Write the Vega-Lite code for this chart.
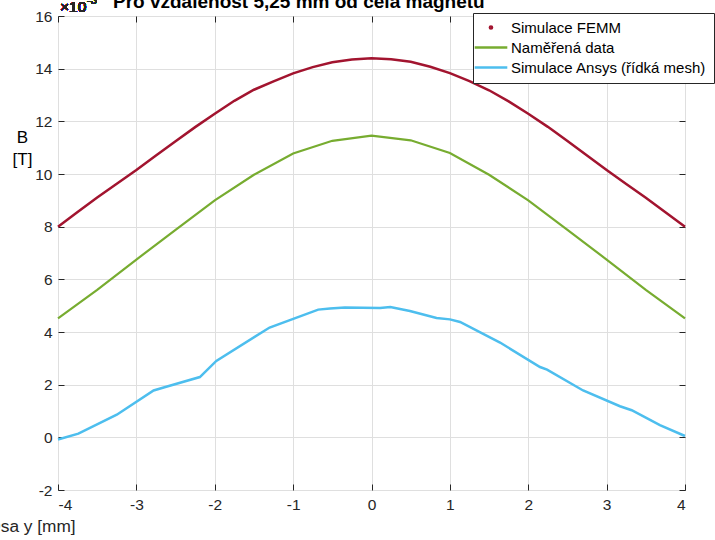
{
  "$schema": "https://vega.github.io/schema/vega-lite/v6.json",
  "autosize": "none",
  "width": 627,
  "height": 474,
  "padding": {"left": 58, "top": 16, "right": 30, "bottom": 50},
  "background": "white",
  "config": {
    "font": "Liberation Sans",
    "view": {"stroke": "#262626", "strokeWidth": 1}
  },
  "title": {
    "text": "Pro vzdálenost 5,25 mm od čela magnetu",
    "anchor": "start",
    "frame": "group",
    "dx": 55,
    "offset": -31.5,
    "baseline": "alphabetic",
    "fontSize": 19,
    "fontWeight": "bold",
    "font": "Liberation Sans",
    "color": "#000000"
  },
  "data": {
    "values": [
      {"serie": "Simulace FEMM", "x": -4, "B": 8.0},
      {"serie": "Simulace FEMM", "x": -3.75, "B": 8.56},
      {"serie": "Simulace FEMM", "x": -3.5, "B": 9.11},
      {"serie": "Simulace FEMM", "x": -3.25, "B": 9.63},
      {"serie": "Simulace FEMM", "x": -3, "B": 10.15},
      {"serie": "Simulace FEMM", "x": -2.75, "B": 10.7},
      {"serie": "Simulace FEMM", "x": -2.5, "B": 11.24},
      {"serie": "Simulace FEMM", "x": -2.25, "B": 11.78},
      {"serie": "Simulace FEMM", "x": -2, "B": 12.29},
      {"serie": "Simulace FEMM", "x": -1.75, "B": 12.78},
      {"serie": "Simulace FEMM", "x": -1.5, "B": 13.2},
      {"serie": "Simulace FEMM", "x": -1.25, "B": 13.52},
      {"serie": "Simulace FEMM", "x": -1, "B": 13.82},
      {"serie": "Simulace FEMM", "x": -0.75, "B": 14.06},
      {"serie": "Simulace FEMM", "x": -0.5, "B": 14.24},
      {"serie": "Simulace FEMM", "x": -0.25, "B": 14.35},
      {"serie": "Simulace FEMM", "x": 0, "B": 14.4},
      {"serie": "Simulace FEMM", "x": 0.25, "B": 14.36},
      {"serie": "Simulace FEMM", "x": 0.5, "B": 14.26},
      {"serie": "Simulace FEMM", "x": 0.75, "B": 14.07},
      {"serie": "Simulace FEMM", "x": 1, "B": 13.83},
      {"serie": "Simulace FEMM", "x": 1.25, "B": 13.53},
      {"serie": "Simulace FEMM", "x": 1.5, "B": 13.18},
      {"serie": "Simulace FEMM", "x": 1.75, "B": 12.76},
      {"serie": "Simulace FEMM", "x": 2, "B": 12.29},
      {"serie": "Simulace FEMM", "x": 2.25, "B": 11.79},
      {"serie": "Simulace FEMM", "x": 2.5, "B": 11.25},
      {"serie": "Simulace FEMM", "x": 2.75, "B": 10.7},
      {"serie": "Simulace FEMM", "x": 3, "B": 10.15},
      {"serie": "Simulace FEMM", "x": 3.25, "B": 9.62},
      {"serie": "Simulace FEMM", "x": 3.5, "B": 9.1},
      {"serie": "Simulace FEMM", "x": 3.75, "B": 8.55},
      {"serie": "Simulace FEMM", "x": 4, "B": 8.0},
      {"serie": "Naměřená data", "x": -4, "B": 4.52},
      {"serie": "Naměřená data", "x": -3.5, "B": 5.6},
      {"serie": "Naměřená data", "x": -3, "B": 6.75},
      {"serie": "Naměřená data", "x": -2.5, "B": 7.88},
      {"serie": "Naměřená data", "x": -2, "B": 9.0},
      {"serie": "Naměřená data", "x": -1.5, "B": 9.97},
      {"serie": "Naměřená data", "x": -1, "B": 10.78},
      {"serie": "Naměřená data", "x": -0.5, "B": 11.26},
      {"serie": "Naměřená data", "x": 0, "B": 11.46},
      {"serie": "Naměřená data", "x": 0.5, "B": 11.28},
      {"serie": "Naměřená data", "x": 1, "B": 10.8},
      {"serie": "Naměřená data", "x": 1.5, "B": 9.97},
      {"serie": "Naměřená data", "x": 2, "B": 9.0},
      {"serie": "Naměřená data", "x": 2.5, "B": 7.88},
      {"serie": "Naměřená data", "x": 3, "B": 6.75},
      {"serie": "Naměřená data", "x": 3.5, "B": 5.6},
      {"serie": "Naměřená data", "x": 4, "B": 4.52},
      {"serie": "Simulace Ansys (řídká mesh)", "x": -4, "B": -0.08},
      {"serie": "Simulace Ansys (řídká mesh)", "x": -3.74, "B": 0.14},
      {"serie": "Simulace Ansys (řídká mesh)", "x": -3.25, "B": 0.86},
      {"serie": "Simulace Ansys (řídká mesh)", "x": -2.78, "B": 1.78},
      {"serie": "Simulace Ansys (řídká mesh)", "x": -2.63, "B": 1.91},
      {"serie": "Simulace Ansys (řídká mesh)", "x": -2.19, "B": 2.29},
      {"serie": "Simulace Ansys (řídká mesh)", "x": -1.98, "B": 2.9},
      {"serie": "Simulace Ansys (řídká mesh)", "x": -1.3, "B": 4.17},
      {"serie": "Simulace Ansys (řídká mesh)", "x": -0.68, "B": 4.85},
      {"serie": "Simulace Ansys (řídká mesh)", "x": -0.53, "B": 4.89},
      {"serie": "Simulace Ansys (řídká mesh)", "x": -0.34, "B": 4.93},
      {"serie": "Simulace Ansys (řídká mesh)", "x": 0.11, "B": 4.91},
      {"serie": "Simulace Ansys (řídká mesh)", "x": 0.24, "B": 4.95},
      {"serie": "Simulace Ansys (řídká mesh)", "x": 0.49, "B": 4.8},
      {"serie": "Simulace Ansys (řídká mesh)", "x": 0.83, "B": 4.53},
      {"serie": "Simulace Ansys (řídká mesh)", "x": 1.0, "B": 4.48},
      {"serie": "Simulace Ansys (řídká mesh)", "x": 1.13, "B": 4.38},
      {"serie": "Simulace Ansys (řídká mesh)", "x": 1.64, "B": 3.6},
      {"serie": "Simulace Ansys (řídká mesh)", "x": 2.15, "B": 2.67},
      {"serie": "Simulace Ansys (řídká mesh)", "x": 2.24, "B": 2.57},
      {"serie": "Simulace Ansys (řídká mesh)", "x": 2.7, "B": 1.78},
      {"serie": "Simulace Ansys (řídká mesh)", "x": 3.17, "B": 1.18},
      {"serie": "Simulace Ansys (řídká mesh)", "x": 3.32, "B": 1.03},
      {"serie": "Simulace Ansys (řídká mesh)", "x": 3.68, "B": 0.46},
      {"serie": "Simulace Ansys (řídká mesh)", "x": 4, "B": 0.05}
    ]
  },
  "resolve": {"axis": {"x": "independent", "y": "independent"}},
  "layer": [
    {
      "transform": [{"filter": "datum.serie === 'Simulace FEMM'"}],
      "mark": {"type": "line", "strokeWidth": 2.5},
      "encoding": {
        "x": {
          "field": "x", "type": "quantitative",
          "scale": {"domain": [-4, 4], "nice": false, "zero": false},
          "axis": {
            "orient": "bottom",
            "values": [-4, -3, -2, -1, 0, 1, 2, 3, 4],
            "labelExpr": "datum.value < 0 ? '-' + abs(datum.value) : '' + datum.value",
            "domain": false,
            "grid": true, "gridColor": "#dfdfdf", "gridWidth": 1,
            "ticks": true, "tickSize": -6, "tickColor": "#262626", "tickWidth": 1,
            "labelPadding": 13, "labelFontSize": 15.5, "labelColor": "#262626", "labelFont": "Liberation Sans",
            "title": "Osa y [mm]", "titleFont": "Liberation Sans", "titleFontSize": 17.3, "titleFontWeight": "normal", "titleColor": "#262626",
            "titleAlign": "center", "titleBaseline": "alphabetic", "titleX": -27, "titleY": 41
          }
        },
        "y": {
          "field": "B", "type": "quantitative",
          "scale": {"domain": [-2, 16], "nice": false, "zero": false},
          "axis": {
            "orient": "left",
            "values": [-2, 0, 2, 4, 6, 8, 10, 12, 14, 16],
            "labelExpr": "datum.value < 0 ? '-' + abs(datum.value) : '' + datum.value",
            "domain": false,
            "grid": true, "gridColor": "#dfdfdf", "gridWidth": 1,
            "ticks": true, "tickSize": -6, "tickColor": "#262626", "tickWidth": 1,
            "labelPadding": 12, "labelFontSize": 15.5, "labelColor": "#262626", "labelFont": "Liberation Sans",
            "title": ["B", "[T]"], "titleFont": "Liberation Sans", "titleFontSize": 17, "titleFontWeight": "normal", "titleColor": "#000000",
            "titleAngle": 0, "titleAlign": "center", "titleBaseline": "alphabetic", "titleX": -36, "titleY": 126, "titleLineHeight": 22.5
          }
        },
        "color": {
          "field": "serie", "type": "nominal",
          "scale": {
            "domain": ["Simulace FEMM", "Naměřená data", "Simulace Ansys (řídká mesh)"],
            "range": ["#A2142F", "#77AC30", "#4DBEEE"]
          },
          "legend": {
            "orient": "none", "legendX": 415, "legendY": -3,
            "title": null,
            "fillColor": "white", "strokeColor": "#262626",
            "padding": 7,
            "labelFont": "Liberation Sans", "labelFontSize": 15, "labelColor": "#000000", "labelLimit": 0, "labelOffset": 16,
            "symbolType": "stroke", "symbolSize": 121, "symbolStrokeWidth": 2.5,
            "rowPadding": 4,
            "encode": {
              "symbols": {
                "update": {
                  "shape": {"signal": "datum.label === 'Simulace FEMM' ? 'M0.83,0A0.2,0.2,0,1,1,0.43,0A0.2,0.2,0,1,1,0.83,0Z' : 'M-2.33,0H3.6'"},
                  "size": {"value": 121}
                }
              }
            }
          }
        }
      }
    },
    {
      "transform": [{"filter": "datum.serie === 'Naměřená data'"}],
      "mark": {"type": "line", "strokeWidth": 2.2},
      "encoding": {
        "x": {"field": "x", "type": "quantitative", "axis": null},
        "y": {"field": "B", "type": "quantitative", "axis": null},
        "color": {"field": "serie", "type": "nominal"}
      }
    },
    {
      "transform": [{"filter": "datum.serie === 'Simulace Ansys (řídká mesh)'"}],
      "mark": {"type": "line", "strokeWidth": 2.5},
      "encoding": {
        "x": {"field": "x", "type": "quantitative", "axis": null},
        "y": {"field": "B", "type": "quantitative", "axis": null},
        "color": {"field": "serie", "type": "nominal"}
      }
    },
    {
      "mark": {"type": "text", "text": "×10", "align": "left", "baseline": "alphabetic", "dx": 2, "dy": -4, "fontSize": 15.5, "font": "Liberation Sans", "color": "#262626"},
      "encoding": {
        "x": {"datum": -4, "type": "quantitative", "axis": {"orient": "top", "values": [-4, -3, -2, -1, 0, 1, 2, 3, 4], "labels": false, "domain": false, "grid": false, "tickSize": -6, "tickColor": "#262626", "title": null}},
        "y": {"datum": 16, "type": "quantitative", "axis": {"orient": "right", "values": [-2, 0, 2, 4, 6, 8, 10, 12, 14, 16], "labels": false, "domain": false, "grid": false, "tickSize": -6, "tickColor": "#262626", "title": null}}
      }
    },
    {
      "mark": {"type": "text", "text": "-3", "align": "left", "baseline": "alphabetic", "dx": 29, "dy": -12, "fontSize": 11, "font": "Liberation Sans", "color": "#262626"},
      "encoding": {
        "x": {"datum": -4, "type": "quantitative", "axis": null},
        "y": {"datum": 16, "type": "quantitative", "axis": null}
      }
    }
  ]
}
